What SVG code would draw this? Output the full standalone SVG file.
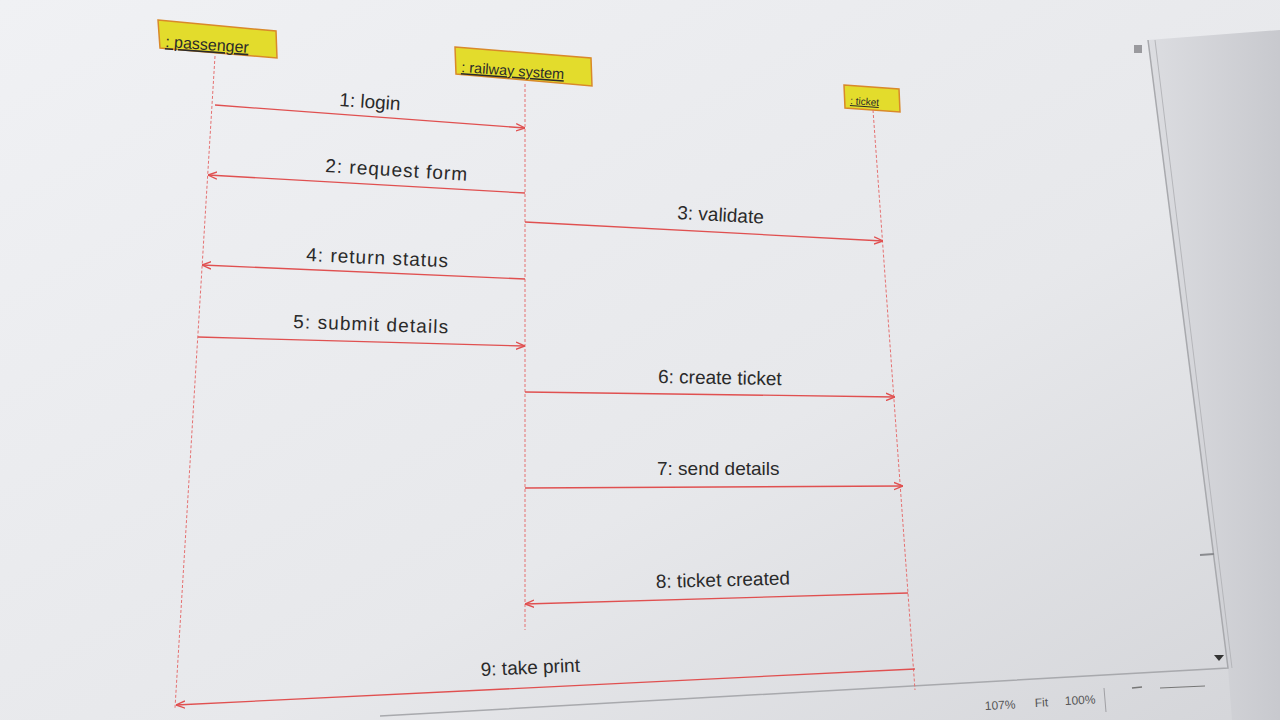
<svg xmlns="http://www.w3.org/2000/svg" width="1280" height="720" viewBox="0 0 1280 720">
<defs>
<linearGradient id="bg" x1="0" y1="0" x2="1" y2="1">
<stop offset="0" stop-color="#f0f1f4"/>
<stop offset="0.6" stop-color="#e7e8eb"/>
<stop offset="1" stop-color="#d4d5d9"/>
</linearGradient>
<linearGradient id="side" x1="0" y1="0" x2="1" y2="0">
<stop offset="0" stop-color="#dcdde1"/>
<stop offset="1" stop-color="#c8c9ce"/>
</linearGradient>
<marker id="ah" viewBox="0 0 10 10" refX="10" refY="5" markerWidth="7" markerHeight="7" orient="auto">
<path d="M0,1 L10,5 L0,9" fill="none" stroke="#e05050" stroke-width="1.5"/>
</marker>
<style>
.life{stroke:#e57070;stroke-width:1;stroke-dasharray:3 2;fill:none}
.msg{stroke:#e05050;stroke-width:1.3;fill:none;marker-end:url(#ah)}
.lbl{font-family:"Liberation Sans",Arial,sans-serif;font-size:19px;fill:#2a2a2a}
.hbox{fill:#e3dc2c;stroke:#d9892a;stroke-width:1.5}
.htxt{font-family:"Liberation Sans",Arial,sans-serif;fill:#2a2a2a;text-decoration:underline}
.ui{font-family:"Liberation Sans",Arial,sans-serif;font-size:12px;fill:#555}
</style>
</defs>
<rect width="1280" height="720" fill="url(#bg)"/>
<polygon points="1148,40 1280,30 1280,720 1232,720 1228,668" fill="url(#side)"/>
<polyline points="1148,40 1228,668 380,716" fill="none" stroke="#a8a9ad" stroke-width="1.5"/>
<polyline points="1155,40 1232,668" fill="none" stroke="#b5b6ba" stroke-width="1"/>
<rect x="1134" y="45" width="8" height="8" fill="#9a9a9e"/>
<path d="M1214,655 L1224,655 L1219,661 Z" fill="#333"/>
<line x1="1200" y1="555" x2="1214" y2="554" stroke="#8a8b8f" stroke-width="2"/>
<g id="statusbar">
<text class="ui" x="985" y="710" transform="rotate(-3 985 710)">107%</text>
<text class="ui" x="1035" y="707" transform="rotate(-3 1035 707)">Fit</text>
<text class="ui" x="1065" y="705" transform="rotate(-3 1065 705)">100%</text>
<line x1="1104" y1="688" x2="1106" y2="712" stroke="#a0a0a4"/>
<line x1="1132" y1="688" x2="1142" y2="687" stroke="#777" stroke-width="1.5"/>
<line x1="1160" y1="688" x2="1205" y2="686" stroke="#777" stroke-width="1.2"/>
</g>
<g id="passenger">
<polygon class="hbox" points="158,20 276,31 277,58 160,48"/>
<text class="htxt" x="165" y="47" font-size="16" transform="rotate(4 165 47)">: passenger</text>
<line class="life" x1="215" y1="56" x2="175" y2="708"/>
</g>
<g id="railway_system">
<polygon class="hbox" points="455,47 591,58 592,86 456,74"/>
<text class="htxt" x="461" y="72" font-size="14.5" transform="rotate(4 461 72)">: railway system</text>
<line class="life" x1="525" y1="84" x2="525" y2="630"/>
</g>
<g id="ticket">
<polygon class="hbox" points="844,85 899,89 900,112 845,108"/>
<text class="htxt" x="850" y="104" font-size="10" transform="rotate(4 850 104)">: ticket</text>
<line class="life" x1="873" y1="110" x2="915" y2="690"/>
</g>
<g id="connectors">
<line class="msg" x1="215" y1="105" x2="525" y2="128"/>
<text class="lbl" x="339" y="106" transform="rotate(4 339 106)">1: login</text>
<line class="msg" x1="525" y1="193" x2="208" y2="175"/>
<text class="lbl" x="325" y="172" transform="rotate(3.5 325 172)" textLength="142">2: request form</text>
<line class="msg" x1="525" y1="222" x2="883" y2="241"/>
<text class="lbl" x="677" y="219" transform="rotate(3 677 219)">3: validate</text>
<line class="msg" x1="525" y1="279" x2="202" y2="265"/>
<text class="lbl" x="306" y="261" transform="rotate(2.5 306 261)" textLength="142">4: return status</text>
<line class="msg" x1="198" y1="337" x2="525" y2="346"/>
<text class="lbl" x="293" y="328" transform="rotate(2 293 328)" textLength="155">5: submit details</text>
<line class="msg" x1="525" y1="392" x2="895" y2="397"/>
<text class="lbl" x="658" y="383" transform="rotate(1 658 383)">6: create ticket</text>
<line class="msg" x1="525" y1="488" x2="903" y2="486"/>
<text class="lbl" x="657" y="475" transform="rotate(0 657 475)">7: send details</text>
<line class="msg" x1="908" y1="593" x2="525" y2="604"/>
<text class="lbl" x="656" y="588" transform="rotate(-1.5 656 588)">8: ticket created</text>
<line class="msg" x1="915" y1="669" x2="176" y2="705"/>
<text class="lbl" x="481" y="676" transform="rotate(-2.5 481 676)">9: take print</text>
</g>
</svg>
